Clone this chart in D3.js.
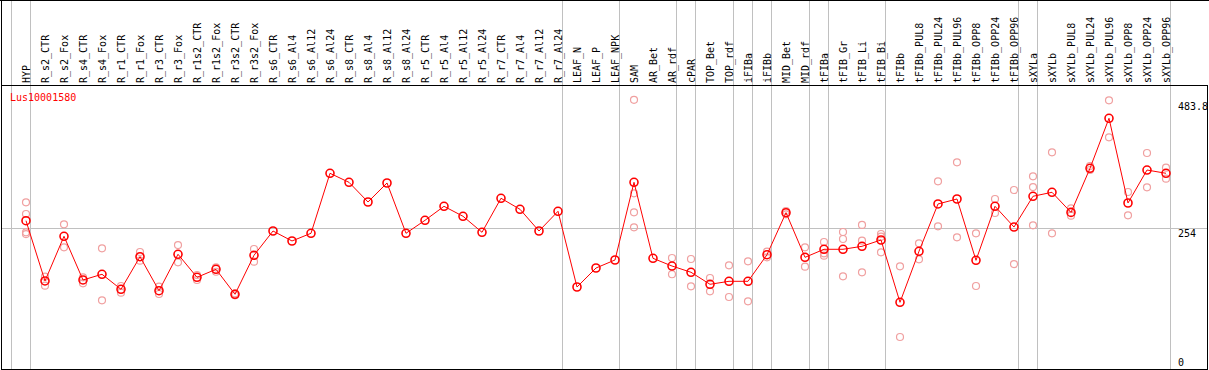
<!DOCTYPE html>
<html>
<head>
<meta charset="utf-8">
<script src="https://cdn.jsdelivr.net/npm/d3@7"></script>
<style>
  body { margin: 0; background: white; }
  text { font-family: "DejaVu Sans Mono", monospace; font-size: 10px; }
</style>
</head>
<body>
<div id="chart"></div>
<script>
var geneName = "Lus10001580";

var samples = [
  "HYP", "R_s2_CTR", "R_s2_Fox", "R_s4_CTR", "R_s4_Fox", "R_r1_CTR", "R_r1_Fox",
  "R_r3_CTR", "R_r3_Fox", "R_r1s2_CTR", "R_r1s2_Fox", "R_r3s2_CTR", "R_r3s2_Fox",
  "R_s6_CTR", "R_s6_Al4", "R_s6_Al12", "R_s6_Al24", "R_s8_CTR", "R_s8_Al4", "R_s8_Al12",
  "R_s8_Al24", "R_r5_CTR", "R_r5_Al4", "R_r5_Al12", "R_r5_Al24", "R_r7_CTR", "R_r7_Al4",
  "R_r7_Al12", "R_r7_Al24", "LEAF_N", "LEAF_P", "LEAF_NPK", "SAM", "AR_Bet", "AR_rdf",
  "cPAR", "TOP_Bet", "TOP_rdf", "iFIBa", "iFIBb", "MID_Bet", "MID_rdf", "tFIBa",
  "tFIB_Gr", "tFIB_Li", "tFIB_Bi", "tFIBb", "tFIBb_PUL8", "tFIBb_PUL24", "tFIBb_PUL96",
  "tFIBb_OPP8", "tFIBb_OPP24", "tFIBb_OPP96", "sXYLa", "sXYLb", "sXYLb_PUL8",
  "sXYLb_PUL24", "sXYLb_PUL96", "sXYLb_OPP8", "sXYLb_OPP24", "sXYLb_OPP96"
];

// mean expression per sample (dark red line)
var means = [
  267.7, 158.9, 239.6, 160.7, 171.0, 143.9, 202.7,
  141.3, 207.1, 165.5, 180.0, 134.9, 205.3,
  249.1, 231.1, 245.0, 353.3, 337.0, 301.5, 335.8,
  245.0, 268.4, 293.7, 275.7, 246.8, 308.2, 288.3,
  249.1, 284.7, 148.0, 182.3, 196.8, 337.0, 199.8, 185.9,
  174.6, 152.9, 158.3, 158.3, 206.3, 282.2, 201.6, 216.1,
  216.1, 221.5, 232.9, 120.4, 212.5, 297.9, 306.9,
  196.2, 293.7, 256.3, 311.8, 319.0, 282.7,
  362.3, 452.6, 299.7, 359.2, 353.3
];

// individual replicates (light pink circles), empty where only one value
var replicates = [
  [300.9, 279.8, 246.8, 243.5], [166.6, 150.4], [261.2, 219.7], [165.5, 154.7],
  [217.9, 124.0], [149.8, 137.7], [211.2, 195.5],
  [148.6, 135.4], [223.8, 192.6], [169.7, 160.7], [183.6, 175.6], [136.7, 133.0], [216.6, 193.7],
  [], [], [], [], [], [], [],
  [], [], [], [], [], [], [],
  [], [], [], [], [], [486.0, 317.2, 282.9, 255.8], [], [200.4, 171.0],
  [198.6, 149.3], [164.3, 140.3], [187.2, 130.0], [194.4, 122.2], [211.8, 201.6],
  [285.2, 279.3], [219.7, 184.7], [229.3, 208.9, 204.5],
  [247.3, 234.7, 167.3], [260.0, 231.6, 174.6], [243.7, 238.8, 210.7], [185.4, 57.8],
  [226.9, 198.0], [338.8, 257.6], [373.1, 237.7],
  [245.0, 149.8], [306.9, 281.6], [323.1, 189.5], [347.9, 328.5, 259.4], [391.2, 245.0],
  [290.1, 276.7],
  [366.5, 359.2], [485.1, 418.3], [319.5, 277.5], [389.9, 328.0], [363.4, 343.5]
];

// group separators, given as index of the first sample after the line
var groupBreaks = [0, 1, 29, 32, 35, 36, 38, 39, 40, 42, 43, 46, 53, 54, 61];

var yTicks = [0, 254, 483.8];
var yTickLabels = ["0", "254", "483.8"];

var width = 1209, height = 370;
var headerH = 85, plotBottom = 369, rightEdge = 1207;

var svg = d3.select("#chart")
  .append("svg")
  .attr("width", width)
  .attr("height", height)
  .attr("shape-rendering", "crispEdges");

var step = 19;
var x = d3.scalePoint().domain(samples).range([26, 26 + step * (samples.length - 1)]);
var y = d3.scaleLinear().domain([0, 483.8]).range([plotBottom, 101]);

function breakX(k) {
  var cx = k < samples.length ? x(samples[k]) : x(samples[samples.length - 1]) + step;
  return Math.round(cx - 15) + 0.5;
}

// grey separators, through header and plot
svg.selectAll("line.sep")
  .data(groupBreaks)
  .enter()
  .append("line")
  .attr("class", "sep")
  .attr("x1", breakX).attr("x2", breakX)
  .attr("y1", 0).attr("y2", height)
  .attr("stroke", "#c0c0c0");

// the 254 gridline
svg.append("line")
  .attr("x1", 1).attr("x2", rightEdge)
  .attr("y1", Math.round(y(254)) + 0.5).attr("y2", Math.round(y(254)) + 0.5)
  .attr("stroke", "#c0c0c0");

// sample names, vertical
svg.selectAll("text.lab")
  .data(samples)
  .enter()
  .append("text")
  .attr("class", "lab")
  .attr("transform", (d) => "translate(" + (x(d) + 4) + "," + 83 + ") rotate(-90)")
  .attr("fill", "black")
  .text((d) => d);

// title
svg.append("text")
  .attr("x", 10).attr("y", 101)
  .attr("fill", "red")
  .text(geneName);

// right side value labels, hanging below their value
svg.selectAll("text.tick")
  .data(yTicks)
  .enter()
  .append("text")
  .attr("class", "tick")
  .attr("x", 1178)
  .attr("y", (d, i) => Math.min(y(d) + 9, 366))
  .attr("fill", "black")
  .text((d, i) => yTickLabels[i]);

// replicate points
var reps = [];
replicates.forEach((r, i) => r.forEach((v) => reps.push({ name: samples[i], v: v })));

svg.append("g")
  .attr("shape-rendering", "auto")
  .selectAll("circle")
  .data(reps)
  .enter()
  .append("circle")
  .attr("cx", (d) => x(d.name))
  .attr("cy", (d) => y(d.v))
  .attr("r", 3.5)
  .attr("fill", "none")
  .attr("stroke", "#f0a0a0")
  .attr("stroke-width", 1.2);

// mean line + circles
var line = d3.line()
  .x((d, i) => x(samples[i]))
  .y((d) => y(d));

svg.append("path")
  .datum(means)
  .attr("d", line)
  .attr("fill", "none")
  .attr("stroke", "red")
  .attr("stroke-width", 1)
  .attr("shape-rendering", "auto");

svg.append("g")
  .attr("shape-rendering", "auto")
  .selectAll("circle")
  .data(means)
  .enter()
  .append("circle")
  .attr("cx", (d, i) => x(samples[i]))
  .attr("cy", (d) => y(d))
  .attr("r", 4)
  .attr("fill", "none")
  .attr("stroke", "red")
  .attr("stroke-width", 1.6);

// frame
svg.append("line").attr("x1", 0).attr("x2", width).attr("y1", 0.5).attr("y2", 0.5).attr("stroke", "black");
svg.append("line").attr("x1", 1.5).attr("x2", 1.5).attr("y1", 0).attr("y2", height).attr("stroke", "black");
svg.append("rect")
  .attr("x", 1.5).attr("y", headerH + 0.5)
  .attr("width", rightEdge - 1.5).attr("height", plotBottom - headerH)
  .attr("fill", "none")
  .attr("stroke", "black");
</script>
</body>
</html>
